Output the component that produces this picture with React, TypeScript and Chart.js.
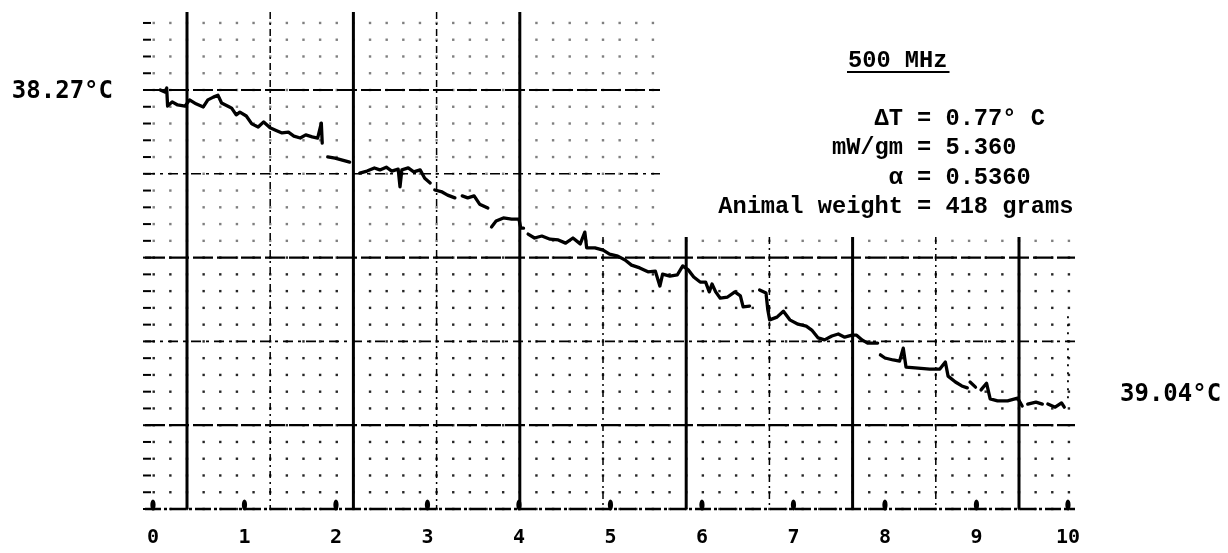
import React, { useEffect, useRef } from "react";
import { Chart, registerables } from "chart.js";

Chart.register(...registerables);

// ---- data read from the strip-chart recording ----
const minuteTicks = [0, 1, 2, 3, 4, 5, 6, 7, 8, 9, 10];

// time (minutes) of each trace reading; a null temperature marks a break in the ink trace
const timeMin = [
  0.08, 0.13, 0.15, 0.16, 0.21, 0.27, 0.35, 0.40, 0.47, 0.55, 0.60, 0.66, 0.71, 0.75, 0.82, 0.86, 0.91, 0.95, 1.02, 1.08,
  1.15, 1.21, 1.28, 1.34, 1.41, 1.48, 1.54, 1.61, 1.67, 1.74, 1.80, 1.84, 1.85, 1.88,
  1.91, 1.99, 2.07, 2.15, 2.20,
  2.26, 2.34, 2.42, 2.48, 2.55, 2.61, 2.68, 2.70, 2.72, 2.79, 2.85, 2.92, 2.97, 3.03, 3.05,
  3.08, 3.16, 3.22, 3.30, 3.34,
  3.38, 3.44, 3.51, 3.57, 3.66, 3.68,
  3.70, 3.75, 3.83, 3.92, 4.00, 4.02, 4.05, 4.07,
  4.10, 4.17, 4.25, 4.34, 4.43, 4.51, 4.59, 4.67, 4.72, 4.74, 4.83, 4.92, 4.99, 5.08, 5.16, 5.23, 5.32, 5.41, 5.49, 5.54,
  5.57, 5.65, 5.73, 5.79, 5.85, 5.91, 5.98, 6.04, 6.08, 6.11, 6.15, 6.20, 6.28, 6.36, 6.42, 6.45, 6.52, 6.58,
  6.63, 6.70, 6.72, 6.74, 6.82, 6.89, 6.96, 7.05, 7.14, 7.20, 7.27, 7.34, 7.42, 7.49, 7.56, 7.64, 7.69, 7.75, 7.81, 7.92, 7.93,
  7.95, 8.00, 8.09, 8.16, 8.20, 8.23, 8.33, 8.49, 8.60, 8.66, 8.69, 8.77, 8.84, 8.90, 8.91,
  8.93, 8.99, 9.02,
  9.05, 9.11, 9.15, 9.23, 9.34, 9.45, 9.50, 9.53,
  9.56, 9.65, 9.72, 9.75,
  9.78, 9.86, 9.93, 9.96,
];

const tempC = [
  38.265, 38.270, 38.260, 38.306, 38.295, 38.303, 38.306, 38.290, 38.300, 38.308, 38.290, 38.283, 38.278, 38.298, 38.306, 38.311, 38.328, 38.321, 38.331, 38.351,
  38.359, 38.346, 38.361, 38.367, 38.374, 38.372, 38.382, 38.387, 38.379, 38.384, 38.387, 38.349, 38.400, null,
  38.435, 38.438, 38.443, 38.448, null,
  38.476, 38.471, 38.463, 38.468, 38.461, 38.471, 38.466, 38.511, 38.468, 38.463, 38.473, 38.468, 38.489, 38.501, null,
  38.519, 38.524, 38.532, 38.539, null,
  38.534, 38.539, 38.534, 38.555, 38.565, null,
  38.613, 38.598, 38.590, 38.593, 38.593, 38.616, 38.616, null,
  38.631, 38.641, 38.636, 38.644, 38.646, 38.654, 38.641, 38.656, 38.626, 38.666, 38.666, 38.672, 38.682, 38.687, 38.697, 38.710, 38.717, 38.727, 38.725, 38.763,
  38.733, 38.738, 38.735, 38.712, 38.722, 38.740, 38.753, 38.753, 38.778, 38.758, 38.778, 38.794, 38.791, 38.778, 38.788, 38.816, 38.814, null,
  38.773, 38.781, 38.824, 38.849, 38.842, 38.827, 38.849, 38.860, 38.865, 38.875, 38.895, 38.900, 38.890, 38.885, 38.893, 38.888, 38.888, 38.900, 38.908, 38.908, null,
  38.938, 38.946, 38.951, 38.954, 38.921, 38.969, 38.971, 38.974, 38.974, 38.956, 38.992, 39.007, 39.017, 39.022, null,
  39.007, 39.020, null,
  39.027, 39.010, 39.050, 39.055, 39.055, 39.048, 39.068, null,
  39.063, 39.058, 39.063, null,
  39.063, 39.071, 39.060, 39.071,
];

const startTemp = 38.27;
const endTemp = 39.04;
const startLabel = "38.27°C";
const endLabel = "39.04°C";
const titleText = "500 MHz";
const paramNames = ["ΔT", "mW/gm", "α", "Animal weight"];
const paramValues = ["0.77° C", "5.360", "0.5360", "418 grams"];

// ---- scale ranges ----
const X_MIN = -0.087;
const X_MAX = 10.077;
const Y_MIN = 38.0616;
const Y_MAX = 39.3297;

const MONO = '"DejaVu Sans Mono", monospace';
const TYPE = '"Liberation Mono", "Courier New", monospace';

// chart-recorder paper grid drawn behind the trace
const paperPlugin = {
  id: "paper",
  beforeDatasetsDraw(chart: any) {
    const { ctx, chartArea } = chart;
    const { left, right, top, bottom } = chartArea;
    const cx = 83.2;
    const cy = 83.8;
    const dx = cx / 5;
    const dy = cy / 5;
    const x0 = left + 42;
    const blankX = left + 515;
    const blankY = top + 227;
    ctx.save();
    ctx.strokeStyle = "#000";
    ctx.fillStyle = "#000";

    // dots
    for (let m = 0; bottom - m * dy > top + 8; m++) {
      const y = bottom - m * dy;
      for (let i = -2; x0 + i * dx < right - 2; i++) {
        const x = x0 + i * dx;
        if (x > blankX && y < blankY) continue;
        ctx.globalAlpha = y > bottom - 3 * cy - 2 ? 0.85 : 0.5;
        ctx.fillRect(x - 1.2, y - 1.2, 2.4, 2.4);
      }
    }
    ctx.globalAlpha = 1;

    // left edge scale marks
    ctx.lineWidth = 2;
    ctx.setLineDash([]);
    for (let m = 0; bottom - m * dy > top + 10; m++) {
      const y = bottom - m * dy;
      ctx.beginPath();
      ctx.moveTo(left - 2, y);
      ctx.lineTo(left + 6, y);
      ctx.stroke();
    }

    // vertical lines
    for (let j = 0; x0 + j * cx < right; j++) {
      const x = x0 + j * cx;
      const startY = x < left + 375 ? top + 2 : blankY;
      ctx.beginPath();
      if (j % 2 === 0) {
        ctx.lineWidth = 3;
        ctx.setLineDash([]);
      } else {
        ctx.lineWidth = 1.5;
        ctx.setLineDash([7, 4, 2, 4]);
      }
      ctx.moveTo(x, startY);
      ctx.lineTo(x, bottom);
      ctx.stroke();
    }

    // horizontal lines
    for (let k = 0; k <= 5; k++) {
      const y = bottom - k * cy;
      const endX = k >= 4 ? blankX : right;
      ctx.beginPath();
      if (k % 2 === 1) {
        ctx.lineWidth = 2.2;
        ctx.setLineDash([20, 4]);
      } else if (k === 0) {
        ctx.lineWidth = 2.4;
        ctx.setLineDash([16, 3, 3, 3]);
      } else {
        ctx.lineWidth = 1.6;
        ctx.setLineDash([10, 5, 3, 5]);
      }
      ctx.moveTo(left, y);
      ctx.lineTo(endX, y);
      ctx.stroke();
    }

    // minute event marks on the base line
    const xs = chart.scales.x;
    ctx.setLineDash([]);
    minuteTicks.forEach((v) => {
      const px = xs.getPixelForValue(v);
      ctx.beginPath();
      ctx.ellipse(px, bottom - 4, 2.6, 5.5, 0, 0, Math.PI * 2);
      ctx.fill();
    });

    // dotted marker at the end of the run
    const endPx = xs.getPixelForValue(minuteTicks[minuteTicks.length - 1]);
    ctx.lineWidth = 1.8;
    ctx.setLineDash([2, 6]);
    ctx.beginPath();
    ctx.moveTo(endPx, bottom - 2.3 * cy);
    ctx.lineTo(endPx, bottom - 1.3 * cy);
    ctx.stroke();
    ctx.restore();
  },
};

const notesPlugin = {
  id: "notes",
  afterDraw(chart: any) {
    const { ctx } = chart;
    ctx.save();
    ctx.fillStyle = "#000";
    ctx.font = `bold 23.7px ${TYPE}`;
    ctx.textBaseline = "alphabetic";
    ctx.textAlign = "left";
    const tx = 840;
    ctx.fillText(titleText, tx, 59);
    const w = ctx.measureText(titleText).width;
    ctx.fillRect(tx - 1, 63, w + 3, 2);
    const eqX = 909;
    const nameEnd = 895;
    paramNames.forEach((name, i) => {
      const y = 117 + i * 29.3;
      ctx.textAlign = "right";
      ctx.fillText(name, nameEnd, y);
      ctx.textAlign = "left";
      ctx.fillText("= " + paramValues[i], eqX, y);
    });
    ctx.restore();
  },
};

export default function App() {
  const ref = useRef<HTMLCanvasElement>(null);
  useEffect(() => {
    if (!ref.current) return;
    const points = timeMin.map((t, i) => ({ x: t, y: tempC[i] }));
    const chart = new Chart(ref.current, {
      type: "line",
      data: {
        datasets: [
          {
            data: points as any,
            borderColor: "#000",
            borderWidth: 3.3,
            pointRadius: 0,
            tension: 0,
            spanGaps: false,
            borderJoinStyle: "round",
            borderCapStyle: "round",
          },
        ],
      },
      options: {
        responsive: false,
        animation: false,
        layout: { autoPadding: false, padding: { top: 2, left: 0, right: 0, bottom: 0 } },
        plugins: { legend: { display: false }, tooltip: { enabled: false } },
        scales: {
          x: {
            type: "linear",
            min: X_MIN,
            max: X_MAX,
            afterBuildTicks: (s: any) => {
              s.ticks = minuteTicks.map((v) => ({ value: v }));
            },
            afterFit: (s: any) => {
              s.height = 36;
              s.paddingLeft = 0;
              s.paddingRight = 0;
            },
            ticks: {
              autoSkip: false,
              maxRotation: 0,
              color: "#000",
              padding: 17,
              font: { family: MONO, size: 20, weight: "bold" },
              callback: (v: any) => String(v),
            },
            grid: { display: false, drawTicks: false },
            border: { display: false },
          },
          y: {
            type: "linear",
            position: "left",
            reverse: true,
            min: Y_MIN,
            max: Y_MAX,
            afterBuildTicks: (s: any) => {
              s.ticks = [{ value: startTemp }];
            },
            afterFit: (s: any) => {
              s.width = 137;
              s.paddingTop = 0;
              s.paddingBottom = 0;
            },
            ticks: {
              color: "#000",
              padding: 32,
              font: { family: MONO, size: 24, weight: "bold" },
              callback: () => startLabel,
            },
            grid: { display: false, drawTicks: false },
            border: { display: false },
          },
          y2: {
            type: "linear",
            position: "right",
            reverse: true,
            min: Y_MIN,
            max: Y_MAX,
            afterBuildTicks: (s: any) => {
              s.ticks = [{ value: endTemp }];
            },
            afterFit: (s: any) => {
              s.width = 145;
              s.paddingTop = 0;
              s.paddingBottom = 0;
            },
            ticks: {
              color: "#000",
              padding: 45,
              font: { family: MONO, size: 24, weight: "bold" },
              callback: () => endLabel,
            },
            grid: { display: false, drawTicks: false },
            border: { display: false },
          },
        },
      },
      plugins: [paperPlugin, notesPlugin],
    });
    return () => chart.destroy();
  }, []);
  return (
    <div style={{ width: 1212, height: 537 }}>
      <canvas ref={ref} width={1212} height={537} style={{ display: "block" }} />
    </div>
  );
}
